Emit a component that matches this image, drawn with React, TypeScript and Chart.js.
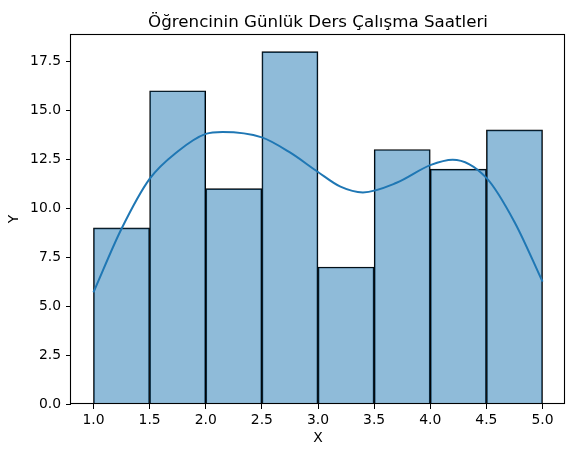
import React, { useEffect, useRef } from "react";
import { Chart, registerables } from "chart.js";

Chart.register(...registerables);

const TITLE = "Öğrencinin Günlük Ders Çalışma Saatleri";
const binCenters = [1.25, 1.75, 2.25, 2.75, 3.25, 3.75, 4.25, 4.75];
const binCounts = [9, 16, 11, 18, 7, 13, 12, 14];
const kdeX = [1.0, 1.25, 1.5, 1.75, 2.0, 2.15, 2.5, 2.75, 3.0, 3.2, 3.4, 3.7, 4.0, 4.2, 4.5, 4.75, 5.0];
const kdeY = [5.7, 8.95, 11.5, 12.9, 13.8, 13.9, 13.62, 12.85, 11.85, 11.1, 10.81, 11.3, 12.2, 12.48, 11.55, 9.3, 6.25];
const xTicks = [1.0, 1.5, 2.0, 2.5, 3.0, 3.5, 4.0, 4.5, 5.0];
const yTicks = [0, 2.5, 5, 7.5, 10, 12.5, 15, 17.5];

const FONT = "'DejaVu Sans', sans-serif";
const TICK_SIZE = 13.9;
const TITLE_SIZE = 16.7;

const framePlugin = {
  id: "frameAndTitle",
  afterDraw(chart: any) {
    const { ctx, chartArea } = chart;
    ctx.save();
    ctx.strokeStyle = "#000";
    ctx.lineWidth = 1.1;
    const l = Math.round(chartArea.left) - 0.5;
    const t = Math.round(chartArea.top) + 0.5;
    const r = Math.round(chartArea.right) - 0.5;
    const b = Math.round(chartArea.bottom) - 0.5;
    ctx.strokeRect(l, t, r - l, b - t);
    ctx.fillStyle = "#000";
    ctx.font = `${TITLE_SIZE}px ${FONT}`;
    ctx.textAlign = "center";
    ctx.textBaseline = "alphabetic";
    ctx.fillText(TITLE, (chartArea.left + chartArea.right) / 2, 26.5);
    ctx.restore();
  },
};

export default function App() {
  const ref = useRef<HTMLCanvasElement>(null);
  useEffect(() => {
    if (!ref.current) return;
    const chart = new Chart(ref.current, {
      type: "bar",
      data: {
        datasets: [
          {
            type: "line",
            data: kdeX.map((x, i) => ({ x, y: kdeY[i] })),
            borderColor: "#1f77b4",
            borderWidth: 2,
            pointRadius: 0,
            cubicInterpolationMode: "monotone",
            fill: false,
            order: 0,
          } as any,
          {
            type: "bar",
            data: binCenters.map((x, i) => ({ x, y: binCounts[i] })),
            backgroundColor: "rgba(31,119,180,0.5)",
            borderColor: "#000",
            borderWidth: 1,
            borderSkipped: "start",
            barPercentage: 1,
            categoryPercentage: 1,
            order: 1,
          } as any,
        ],
      },
      options: {
        animation: false,
        responsive: false,
        maintainAspectRatio: false,
        layout: { padding: { top: 34, right: 11, left: 0, bottom: 0 } },
        plugins: { legend: { display: false }, title: { display: false }, tooltip: { enabled: false } },
        scales: {
          x: {
            type: "linear",
            min: 0.8,
            max: 5.2,
            offset: false,
            afterBuildTicks: (s: any) => {
              s.ticks = xTicks.map((v) => ({ value: v }));
            },
            afterFit: (s: any) => {
              s.height = 53;
            },
            ticks: {
              autoSkip: false,
              maxRotation: 0,
              padding: 3,
              color: "#000",
              font: { family: FONT, size: TICK_SIZE },
              callback: (v: any) => Number(v).toFixed(1),
            },
            grid: { offset: false, drawOnChartArea: false, drawTicks: true, tickLength: 5, color: "#000" },
            border: { display: false },
            title: { display: true, text: "X", color: "#000", font: { family: FONT, size: TICK_SIZE }, padding: { top: 0, bottom: 10.7 } },
          },
          y: {
            type: "linear",
            min: 0,
            max: 18.9,
            afterBuildTicks: (s: any) => {
              s.ticks = yTicks.map((v) => ({ value: v }));
            },
            afterFit: (s: any) => {
              s.width = 71;
            },
            ticks: {
              autoSkip: false,
              padding: 5,
              color: "#000",
              font: { family: FONT, size: TICK_SIZE },
              callback: (v: any) => Number(v).toFixed(1),
            },
            grid: { drawOnChartArea: false, drawTicks: true, tickLength: 5, color: "#000" },
            border: { display: false },
            title: { display: true, text: "Y", color: "#000", font: { family: FONT, size: TICK_SIZE }, padding: { top: 6, bottom: 0 } },
          },
        },
      } as any,
      plugins: [framePlugin],
    });
    return () => chart.destroy();
  }, []);
  return (
    <div style={{ position: "absolute", left: 0, top: 0, width: 576, height: 457, background: "#fff" }}>
      <canvas ref={ref} width={576} height={457} style={{ width: 576, height: 457 }} />
    </div>
  );
}
